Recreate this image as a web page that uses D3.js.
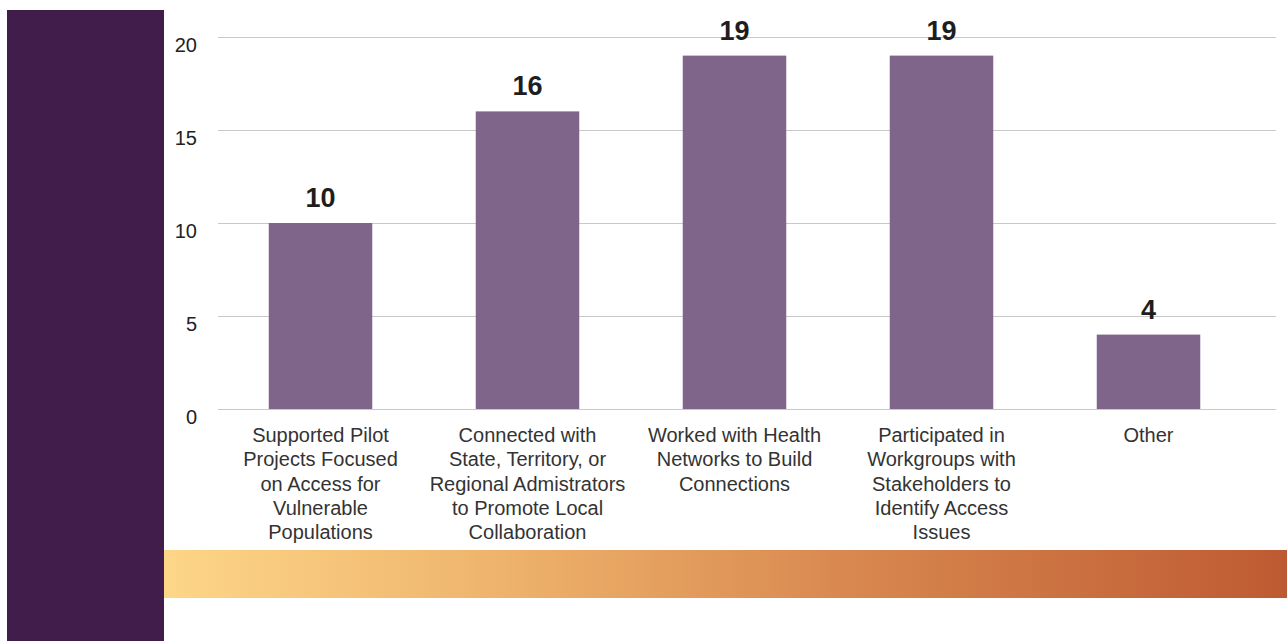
<!DOCTYPE html>
<html>
<head>
<meta charset="utf-8">
<script src="https://cdn.jsdelivr.net/npm/d3@7"></script>
<style>
  html, body { margin: 0; padding: 0; background: #fff; }
  svg { display: block; }
</style>
</head>
<body>
<svg id="chart" width="1287" height="641"></svg>
<script>
const categories = [
  "Supported Pilot\nProjects Focused\non Access for\nVulnerable\nPopulations",
  "Connected with\nState, Territory, or\nRegional Admistrators\nto Promote Local\nCollaboration",
  "Worked with Health\nNetworks to Build\nConnections",
  "Participated in\nWorkgroups with\nStakeholders to\nIdentify Access\nIssues",
  "Other"
];
const values = [10, 16, 19, 19, 4];
const yTicks = [0, 5, 10, 15, 20];

const svg = d3.select("#chart");
const font = "'Liberation Sans', Arial, Helvetica, sans-serif";

// left decorative band
svg.append("rect").attr("x", 7).attr("y", 10).attr("width", 157).attr("height", 631).attr("fill", "#411d4b");

// gradient band
const defs = svg.append("defs");
const grad = defs.append("linearGradient").attr("id", "band").attr("x1", "0").attr("x2", "1").attr("y1", "0").attr("y2", "0");
grad.append("stop").attr("offset", "0").attr("stop-color", "#fdd688");
grad.append("stop").attr("offset", "0.3").attr("stop-color", "#eeb36c");
grad.append("stop").attr("offset", "0.6").attr("stop-color", "#d98950");
grad.append("stop").attr("offset", "1").attr("stop-color", "#be5a32");
svg.append("rect").attr("x", 164).attr("y", 550).attr("width", 1123).attr("height", 48).attr("fill", "url(#band)");

const x = d3.scaleBand().domain(categories).range([217, 1252]).paddingInner(0.5).paddingOuter(0.25);
const y = d3.scaleLinear().domain([0, 20]).range([409, 37]);

// y axis with gridlines
const yAxis = svg.append("g")
  .attr("transform", "translate(218,0)")
  .call(d3.axisLeft(y).tickValues(yTicks).tickSize(-(1276 - 218)).tickPadding(21));
yAxis.select(".domain").remove();
yAxis.selectAll(".tick line").attr("stroke", "#c9c9c9").attr("stroke-width", 1.2);
yAxis.selectAll(".tick text")
  .attr("dy", "0")
  .attr("y", 14)
  .attr("fill", "#222")
  .style("font-family", font)
  .style("font-size", "20px");

// bars
svg.append("g").selectAll("rect")
  .data(values)
  .join("rect")
  .attr("x", (d, i) => x(categories[i]))
  .attr("y", d => y(d))
  .attr("width", x.bandwidth())
  .attr("height", d => y(0) - y(d))
  .attr("fill", "#7f658a");

// value labels
svg.append("g").selectAll("text")
  .data(values)
  .join("text")
  .attr("x", (d, i) => x(categories[i]) + x.bandwidth() / 2)
  .attr("y", d => y(d) - 16)
  .attr("text-anchor", "middle")
  .attr("fill", "#1e1e1e")
  .style("font-family", font)
  .style("font-weight", "bold")
  .style("font-size", "27px")
  .text(d => d);

// category labels
const xAxis = svg.append("g")
  .attr("transform", "translate(0,409)")
  .call(d3.axisBottom(x).tickSize(0).tickFormat(""));
xAxis.select(".domain").remove();
xAxis.selectAll(".tick").each(function(d) {
  const lines = d.split("\n");
  const t = d3.select(this).append("text")
    .attr("text-anchor", "middle")
    .attr("fill", "#333")
    .style("font-family", font)
    .style("font-size", "20px");
  lines.forEach((ln, i) => {
    t.append("tspan").attr("x", 0).attr("y", 33 + i * 24.3).text(ln);
  });
});
</script>
</body>
</html>
